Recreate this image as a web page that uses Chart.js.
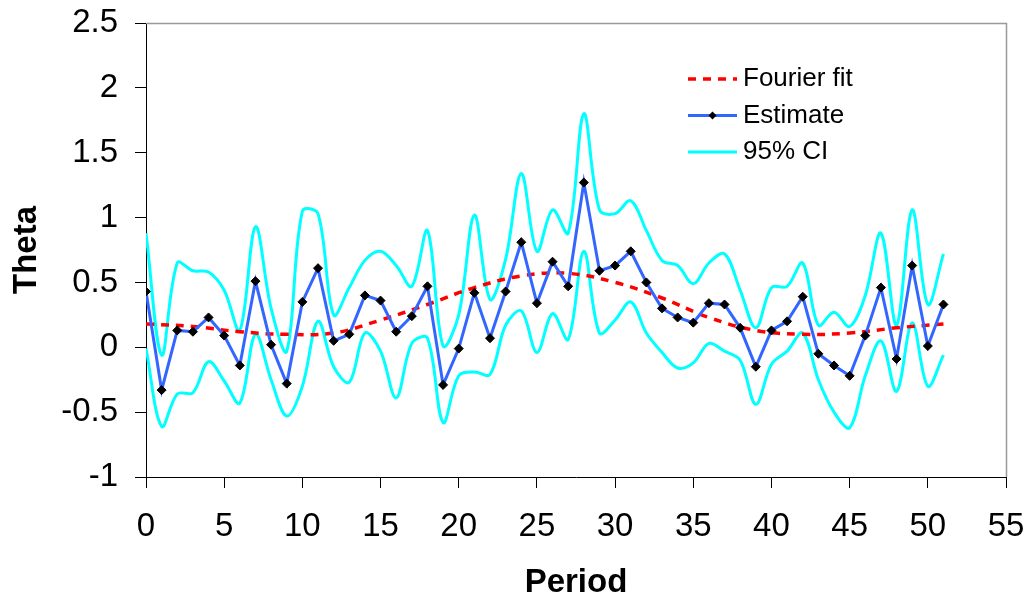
<!DOCTYPE html>
<html>
<head>
<meta charset="utf-8">
<script src="https://cdn.jsdelivr.net/npm/chart.js@4.4.0/dist/chart.umd.min.js"></script>
<style>
  html, body { margin: 0; padding: 0; background: #fff; }
  #wrap { width: 1031px; height: 604px; }
</style>
</head>
<body>
<div id="wrap"><canvas id="chart" width="1031" height="604"></canvas></div>
<script>
// values
const periods = [0, 1, 2, 3, 4, 5, 6, 7, 8, 9, 10, 11, 12, 13, 14, 15, 16, 17, 18, 19, 20, 21, 22, 23, 24, 25,
    26, 27, 28, 29, 30, 31, 32, 33, 34, 35, 36, 37, 38, 39, 40, 41, 42, 43, 44, 45, 46, 47, 48, 49, 50, 51];
const estimate = [0.43, -0.33, 0.13, 0.12, 0.23, 0.09, -0.14, 0.51, 0.02, -0.28, 0.35, 0.61, 0.05, 0.10, 0.40, 0.36,
    0.12, 0.24, 0.47, -0.29, -0.01, 0.42, 0.07, 0.43, 0.81, 0.34, 0.66, 0.47, 1.27, 0.59, 0.63, 0.74, 0.50, 0.30,
    0.23, 0.19, 0.34, 0.33, 0.15, -0.15, 0.13, 0.20, 0.39, -0.05, -0.14, -0.22, 0.09, 0.46, -0.09, 0.63, 0.01, 0.33];
const ciUpper = [0.88, -0.06, 0.65, 0.59, 0.58, 0.44, 0.13, 0.93, 0.30, -0.03, 1.05, 1.03, 0.25, 0.46, 0.67, 0.74,
    0.63, 0.47, 0.90, 0.01, 0.25, 1.02, 0.37, 0.68, 1.34, 0.74, 1.06, 0.88, 1.80, 1.06, 1.03, 1.13, 0.90, 0.67,
    0.63, 0.49, 0.65, 0.72, 0.44, 0.15, 0.46, 0.47, 0.65, 0.17, 0.27, 0.16, 0.40, 0.88, 0.17, 1.06, 0.33, 0.72];
const ciLower = [-0.01, -0.61, -0.36, -0.35, -0.11, -0.26, -0.43, 0.10, -0.25, -0.53, -0.30, 0.20, -0.15, -0.27, 0.11,
    -0.03, -0.39, 0.03, 0.07, -0.58, -0.22, -0.19, -0.21, 0.17, 0.28, -0.04, 0.26, 0.06, 0.74, 0.11, 0.21, 0.35,
    0.11, -0.04, -0.16, -0.12, 0.03, -0.03, -0.10, -0.44, -0.13, -0.03, 0.11, -0.25, -0.50, -0.62, -0.22, 0.05,
    -0.34, 0.19, -0.30, -0.06];
const fourierPeriods = [0, 3, 6, 9, 12, 15, 18, 21, 24, 27, 30, 33, 36, 39, 42, 45, 48, 51];
const fourierFit = [0.18, 0.16, 0.12, 0.10, 0.11, 0.21, 0.33, 0.46, 0.55, 0.57, 0.50, 0.38, 0.23, 0.13, 0.10, 0.11, 0.15, 0.18];
const legendLabels = ['Fourier fit', 'Estimate', '95% CI'];

const toPoints = (xs, ys) => xs.map((x, i) => ({ x: x, y: ys[i] }));

const tickFont = { family: '"Liberation Sans", Arial, sans-serif', size: 33 };
const titleFont = { family: '"Liberation Sans", Arial, sans-serif', size: 33, weight: 'bold' };
const legendFont = '26px "Liberation Sans", Arial, sans-serif';

// fixed axis box sizes, no extra room for overhanging tick labels
const fitAxis = (w, h) => s => {
    if (w) s.width = w;
    if (h) s.height = h;
    s.paddingTop = s.paddingBottom = s.paddingLeft = s.paddingRight = 0;
};

// gray frame on top/right of the plot area + legend inside it
const frameAndLegend = {
    id: 'frameAndLegend',
    afterDraw(chart) {
        const { ctx, chartArea } = chart;
        ctx.save();
        ctx.strokeStyle = '#999';
        ctx.lineWidth = 1.5;
        ctx.beginPath();
        ctx.moveTo(chartArea.left, chartArea.top + 0.5);
        ctx.lineTo(chartArea.right + 0.5, chartArea.top + 0.5);
        ctx.lineTo(chartArea.right + 0.5, chartArea.bottom);
        ctx.stroke();

        const x0 = chartArea.left + 542;
        let y = chartArea.top + 56;
        legendLabels.forEach(label => {
            const ds = chart.data.datasets.find(d => d.label === label);
            ctx.strokeStyle = ds.borderColor;
            ctx.lineWidth = ds.borderWidth;
            ctx.setLineDash(ds.borderDash || []);
            ctx.beginPath();
            ctx.moveTo(x0, y);
            ctx.lineTo(x0 + 49, y);
            ctx.stroke();
            ctx.setLineDash([]);
            if (ds.pointRadius > 0) {
                const cx = x0 + 24.5, r = 4;
                ctx.fillStyle = ds.pointBackgroundColor;
                ctx.beginPath();
                ctx.moveTo(cx, y - r);
                ctx.lineTo(cx + r, y);
                ctx.lineTo(cx, y + r);
                ctx.lineTo(cx - r, y);
                ctx.closePath();
                ctx.fill();
            }
            ctx.fillStyle = '#000';
            ctx.font = legendFont;
            ctx.textBaseline = 'middle';
            ctx.textAlign = 'left';
            ctx.fillText(label, x0 + 55, y);
            y += 36.5;
        });
        ctx.restore();
    }
};

new Chart(document.getElementById('chart').getContext('2d'), {
    type: 'line',
    data: {
        datasets: [
            {
                label: 'Estimate',
                data: toPoints(periods, estimate),
                borderColor: '#3366ff',
                borderWidth: 3,
                tension: 0,
                pointStyle: 'rectRot',
                pointRadius: 4.5,
                pointBackgroundColor: '#000',
                pointBorderColor: '#000',
                pointBorderWidth: 1
            },
            {
                label: 'Fourier fit',
                data: toPoints(fourierPeriods, fourierFit),
                borderColor: '#ff0000',
                borderWidth: 3.5,
                borderDash: [8, 7],
                tension: 0.4,
                pointRadius: 0
            },
            {
                label: '95% CI',
                data: toPoints(periods, ciUpper),
                borderColor: '#00ffff',
                borderWidth: 3,
                tension: 0.35,
                pointRadius: 0
            },
            {
                label: '95% CI lower',
                data: toPoints(periods, ciLower),
                borderColor: '#00ffff',
                borderWidth: 3,
                tension: 0.35,
                pointRadius: 0
            }
        ]
    },
    options: {
        responsive: false,
        animation: false,
        devicePixelRatio: 1,
        layout: { padding: { top: 23, right: 25, left: 0, bottom: 0 } },
        plugins: {
            legend: { display: false },
            tooltip: { enabled: false }
        },
        scales: {
            x: {
                type: 'linear',
                min: 0,
                max: 55,
                ticks: { stepSize: 5, font: tickFont, color: '#000', padding: 19, maxRotation: 0 },
                grid: { drawOnChartArea: false, color: '#000', tickLength: 11 },
                border: { color: '#000', width: 1 },
                title: { display: true, text: 'Period', font: titleFont, color: '#000', padding: { top: 0, bottom: 1 } },
                afterFit: fitAxis(0, 127)
            },
            y: {
                min: -1,
                max: 2.5,
                ticks: {
                    stepSize: 0.5, font: tickFont, color: '#000', padding: 17,
                    callback: v => String(Math.round(v * 100) / 100)
                },
                grid: { drawOnChartArea: false, color: '#000', tickLength: 11 },
                border: { color: '#000', width: 1 },
                title: { display: true, text: 'Theta', font: titleFont, color: '#000', padding: { top: 7, bottom: 0 } },
                afterFit: fitAxis(146, 0)
            }
        }
    },
    plugins: [frameAndLegend]
});
</script>
</body>
</html>
